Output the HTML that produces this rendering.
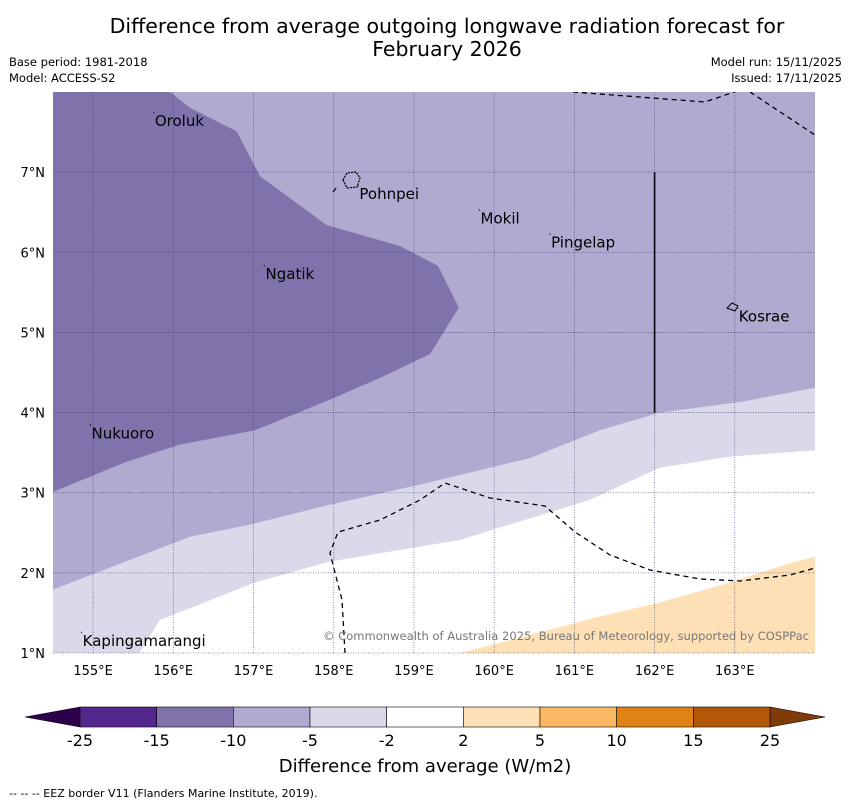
<!DOCTYPE html>
<html><head><meta charset="utf-8"><style>
body{margin:0;background:#fff;width:850px;height:804px;overflow:hidden;font-family:"DejaVu Sans","Liberation Sans",sans-serif}
</style></head><body>
<svg id="c" width="850" height="804" xmlns="http://www.w3.org/2000/svg" style="font-family:'DejaVu Sans','Liberation Sans',sans-serif">
<text x="447" y="33" font-size="20.5" text-anchor="middle">Difference from average outgoing longwave radiation forecast for</text>
<text x="447" y="56" font-size="20.5" text-anchor="middle">February 2026</text>
<text x="9" y="66" font-size="11.5">Base period: 1981-2018</text>
<text x="9" y="82" font-size="11.5">Model: ACCESS-S2</text>
<text x="842" y="66" font-size="11.5" text-anchor="end">Model run: 15/11/2025</text>
<text x="842" y="82" font-size="11.5" text-anchor="end">Issued: 17/11/2025</text>
<defs><clipPath id="mc"><rect x="53" y="92" width="762" height="561"/></clipPath></defs>
<g id="map" clip-path="url(#mc)"></g>
<g id="ov"></g>
<text x="9" y="797" font-size="11">--  --  -- EEZ border V11 (Flanders Marine Institute, 2019).</text>
<text x="425" y="772" font-size="18" text-anchor="middle">Difference from average (W/m2)</text>
</svg>
<script>
const lonMin=154.5,lonMax=164.0,latMin=1.0,latMax=8.0;
const X0=53,X1=815,Y0=92,Y1=653;
function sx(l){return X0+(l-lonMin)/(lonMax-lonMin)*(X1-X0);}
function sy(l){return Y1-(l-latMin)/(latMax-latMin)*(Y1-Y0);}
const ns="http://www.w3.org/2000/svg";
const map=document.getElementById('map'),ov=document.getElementById('ov'),svg=document.getElementById('c');
function mk(t,a,p){const e=document.createElementNS(ns,t);for(const k in a)e.setAttribute(k,a[k]);(p||svg).appendChild(e);return e;}
const lightRegion=[[154.5,1.0],[155.58,1.0],[155.83,1.41],[157.02,1.88],[157.95,2.14],[159.57,2.41],[161.19,2.91],[162.06,3.31],[162.94,3.45],[164.0,3.53],[164.0,8.0],[154.5,8.0]];
const mediumRegion=[[154.5,1.79],[155.40,2.14],[156.21,2.45],[156.95,2.60],[157.95,2.85],[159.07,3.10],[160.44,3.43],[161.32,3.78],[162.06,4.00],[163.06,4.13],[164.0,4.31],[164.0,8.0],[154.5,8.0]];
const darkRegion=[[154.5,8.0],[155.96,8.0],[156.21,7.80],[156.79,7.51],[157.08,6.95],[157.91,6.34],[158.82,6.08],[159.30,5.83],[159.56,5.31],[159.20,4.73],[158.57,4.43],[157.95,4.16],[157.02,3.78],[156.08,3.60],[155.40,3.38],[154.5,3.01]];
const orangeRegion=[[159.57,1.0],[160.32,1.19],[161.25,1.44],[162.06,1.63],[162.94,1.88],[163.68,2.12],[164.0,2.20],[164.0,1.0]];
function poly(pts,fill,name){const e=mk('polygon',{points:pts.map(p=>sx(p[0])+','+sy(p[1])).join(' '),fill:fill},map);

}
poly(lightRegion,'#d9d9ea','region-minus5-to-minus2');
poly(mediumRegion,'#b0a9d0','region-minus10-to-minus5');
poly(darkRegion,'#8073ac','region-minus15-to-minus10');
poly(orangeRegion,'#fee0b6','region-2-to-5');
const eez=["M573,92 L705,102 L740,90","M750,92 L815,135","M345,653 L342,600 L330,553 L338,532 L380,520 L420,500 L445,483 L490,498 L545,506 L575,532 L610,555 L650,570 L700,579 L740,581 L790,575 L815,568","M333,192 L337,187"];
eez.forEach(d=>{const e=mk('path',{d:d,fill:'none',stroke:'#000','stroke-width':1.3,'stroke-dasharray':'5,4'},map);

});
const vl=mk('line',{x1:sx(162),x2:sx(162),y1:sy(7),y2:sy(4),stroke:'#000','stroke-width':1.6},map);


mk('path',{d:"M343,180 L347,173 L356,172 L360,178 L357,187 L347,188 Z",fill:'none',stroke:'#000','stroke-width':1.2,'stroke-dasharray':'2,1'},map);
mk('path',{d:"M727,308 L732,303 L738,306 L735,311 Z",fill:'none',stroke:'#000','stroke-width':1},map);
const lonTicks=[155,156,157,158,159,160,161,162,163];
const latTicks=[1,2,3,4,5,6,7];
lonTicks.forEach(l=>{const e=mk('line',{x1:sx(l),x2:sx(l),y1:Y0,y2:Y1,stroke:'#336',opacity:0.7,'stroke-width':0.8,'stroke-dasharray':'1,1.5'},ov);


const t=mk('text',{x:sx(l),y:675,'font-size':13,'text-anchor':'middle'},ov);t.textContent=l+'°E';

});
latTicks.forEach(l=>{const e=mk('line',{x1:X0,x2:X1,y1:sy(l),y2:sy(l),stroke:'#336',opacity:0.7,'stroke-width':0.8,'stroke-dasharray':'1,1.5'},ov);


const t=mk('text',{x:45,y:sy(l)+5,'font-size':13,'text-anchor':'end'},ov);t.textContent=l+'°N';

});
const places=["Oroluk","Pohnpei","Mokil","Pingelap","Ngatik","Kosrae","Nukuoro","Kapingamarangi"];
const placeLon=[155.77,158.32,159.83,160.71,157.15,163.05,154.98,154.87];
const placeLat=[7.64,6.73,6.42,6.12,5.73,5.2,3.74,1.15];
places.forEach((p,i)=>{const t=mk('text',{x:sx(placeLon[i]),y:sy(placeLat[i])+5,'font-size':15},ov);t.textContent=p;


mk('text',{x:sx(placeLon[i])-3,y:sy(placeLat[i])-2,'font-size':9},ov).textContent='`';});
const cp=mk('text',{x:809,y:640,'font-size':11.5,'text-anchor':'end',fill:'#777',textLength:486},ov);cp.textContent='© Commonwealth of Australia 2025, Bureau of Meteorology, supported by COSPPac';


const cbLabels=['-25','-15','-10','-5','-2','2','5','10','15','25'];
const cbColors=['#54278f','#8073ac','#b0a9d0','#d9d9ea','#ffffff','#fee0b6','#fdb863','#e08214','#b35806'];
const cx0=80,cx1=770,cy0=707,cy1=727,w=(cx1-cx0)/cbColors.length;
const lt=mk('polygon',{points:`25,717 ${cx0},${cy0} ${cx0},${cy1}`,fill:'#2d004b',stroke:'#000','stroke-width':0.5});


const rt=mk('polygon',{points:`825,717 ${cx1},${cy0} ${cx1},${cy1}`,fill:'#7f3b08',stroke:'#000','stroke-width':0.5});


cbColors.forEach((c,i)=>{const r=mk('rect',{x:cx0+i*w,y:cy0,width:w,height:cy1-cy0,fill:c,stroke:'#000','stroke-width':0.6});

});
cbLabels.forEach((l,i)=>{const t=mk('text',{x:cx0+i*w,y:746,'font-size':16,'text-anchor':'middle'});t.textContent=l;

});
</script>
</body></html>
